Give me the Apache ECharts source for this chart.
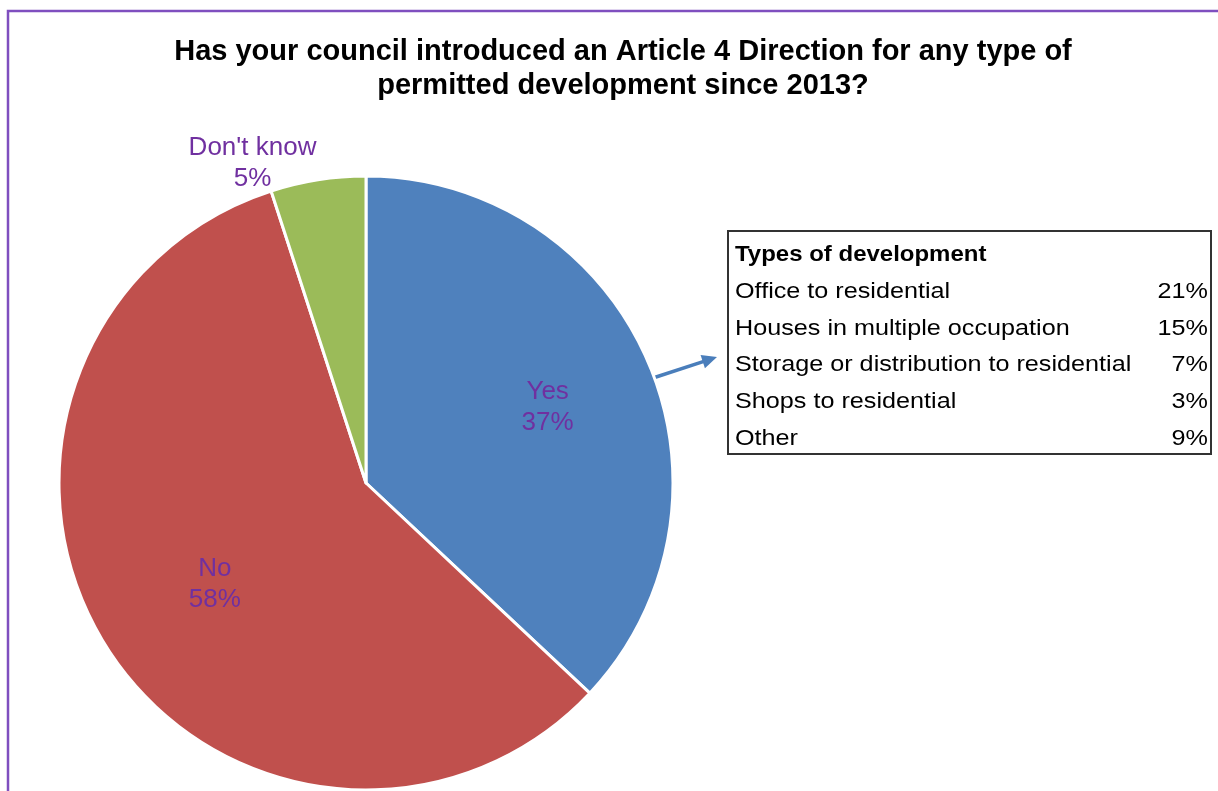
<!DOCTYPE html>
<html>
<head>
<meta charset="utf-8">
<script src="https://cdn.jsdelivr.net/npm/echarts@6/dist/echarts.min.js"></script>
<style>
  html, body { margin: 0; padding: 0; background: #fff; }
  #chart { width: 1218px; height: 791px; }
</style>
</head>
<body>
<div id="chart"></div>
<script>
// Survey answers
var answers = ['Yes', 'No', "Don't know"];
var answerShares = [37, 58, 5];
var answerColors = ['#4F81BD', '#C0504D', '#9BBB59'];

// Breakdown of "Yes" responses by type of development
var typeLabels = ['Office to residential', 'Houses in multiple occupation',
  'Storage or distribution to residential', 'Shops to residential', 'Other'];
var typeShares = [21, 15, 7, 3, 9];

var titleLines = ['Has your council introduced an Article 4 Direction for any type of',
  'permitted development since 2013?'];

var labelOffsets = [[38, -14], [-19, 17], [-89, -165]];
var FONT = '"Liberation Sans", Arial, sans-serif';

var chart = echarts.init(document.getElementById('chart'), null, { renderer: 'canvas' });

// Table of development types next to the pie
var tableX = 728, tableY = 231, tableW = 483, tableH = 223, rowH = 36.8;
var tableEls = [{
  type: 'rect',
  shape: { x: tableX, y: tableY, width: tableW, height: tableH },
  style: { fill: '#fff', stroke: '#333', lineWidth: 2 }
}, {
  type: 'text',
  x: tableX + 7, y: tableY + 24, scaleX: 1.09,
  style: { text: 'Types of development', font: 'bold 22px ' + FONT, fill: '#000', textVerticalAlign: 'middle' }
}];
typeLabels.forEach(function (name, i) {
  var y = tableY + 24 + rowH * (i + 1);
  tableEls.push({
    type: 'text', x: tableX + 7, y: y, scaleX: 1.145,
    style: { text: name, font: '22px ' + FONT, fill: '#000', textVerticalAlign: 'middle' }
  });
  tableEls.push({
    type: 'text', x: tableX + tableW - 3, y: y, scaleX: 1.145,
    style: { text: typeShares[i] + '%', font: '22px ' + FONT, fill: '#000', textAlign: 'right', textVerticalAlign: 'middle' }
  });
});

// Arrow from the "Yes" slice to the table
var tip = [717, 357], tail = [653, 378];
var dx = tip[0] - tail[0], dy = tip[1] - tail[1];
var len = Math.sqrt(dx * dx + dy * dy);
var ux = dx / len, uy = dy / len;
var headL = 15, headW = 7;
var base = [tip[0] - ux * headL, tip[1] - uy * headL];
var arrowEls = [{
  type: 'line',
  shape: { x1: tail[0], y1: tail[1], x2: base[0] + ux * 2, y2: base[1] + uy * 2 },
  style: { stroke: '#4A7EBB', lineWidth: 3.5 }
}, {
  type: 'polygon',
  shape: { points: [tip, [base[0] - uy * headW, base[1] + ux * headW], [base[0] + uy * headW, base[1] - ux * headW]] },
  style: { fill: '#4A7EBB' }
}];

var option = {
  backgroundColor: '#fff',
  animation: false,
  title: {
    text: titleLines.join('\n'),
    left: 618, top: 30, textAlign: 'center',
    textStyle: { fontFamily: FONT, fontWeight: 'bold', fontSize: 29, color: '#000', lineHeight: 34 }
  },
  graphic: [{
    type: 'rect',
    shape: { x: 8, y: 11, width: 1240, height: 820 },
    style: { fill: 'none', stroke: '#7F4FBF', lineWidth: 2.5 }
  }].concat(tableEls, arrowEls),
  series: [{
    type: 'pie',
    center: [366, 483],
    radius: [0, 307],
    startAngle: 90,
    clockwise: true,
    avoidLabelOverlap: false,
    itemStyle: { borderColor: '#fff', borderWidth: 3 },
    label: {
      show: true,
      position: 'inside',
      formatter: '{b}\n{c}%',
      fontFamily: FONT,
      fontSize: 26,
      lineHeight: 31,
      color: '#7030A0'
    },
    labelLine: { show: false },
    emphasis: { disabled: true },
    data: answers.map(function (name, i) {
      return {
        name: name,
        value: answerShares[i],
        itemStyle: { color: answerColors[i] },
        label: { offset: labelOffsets[i] }
      };
    })
  }]
};
chart.setOption(option);
</script>
</body>
</html>
